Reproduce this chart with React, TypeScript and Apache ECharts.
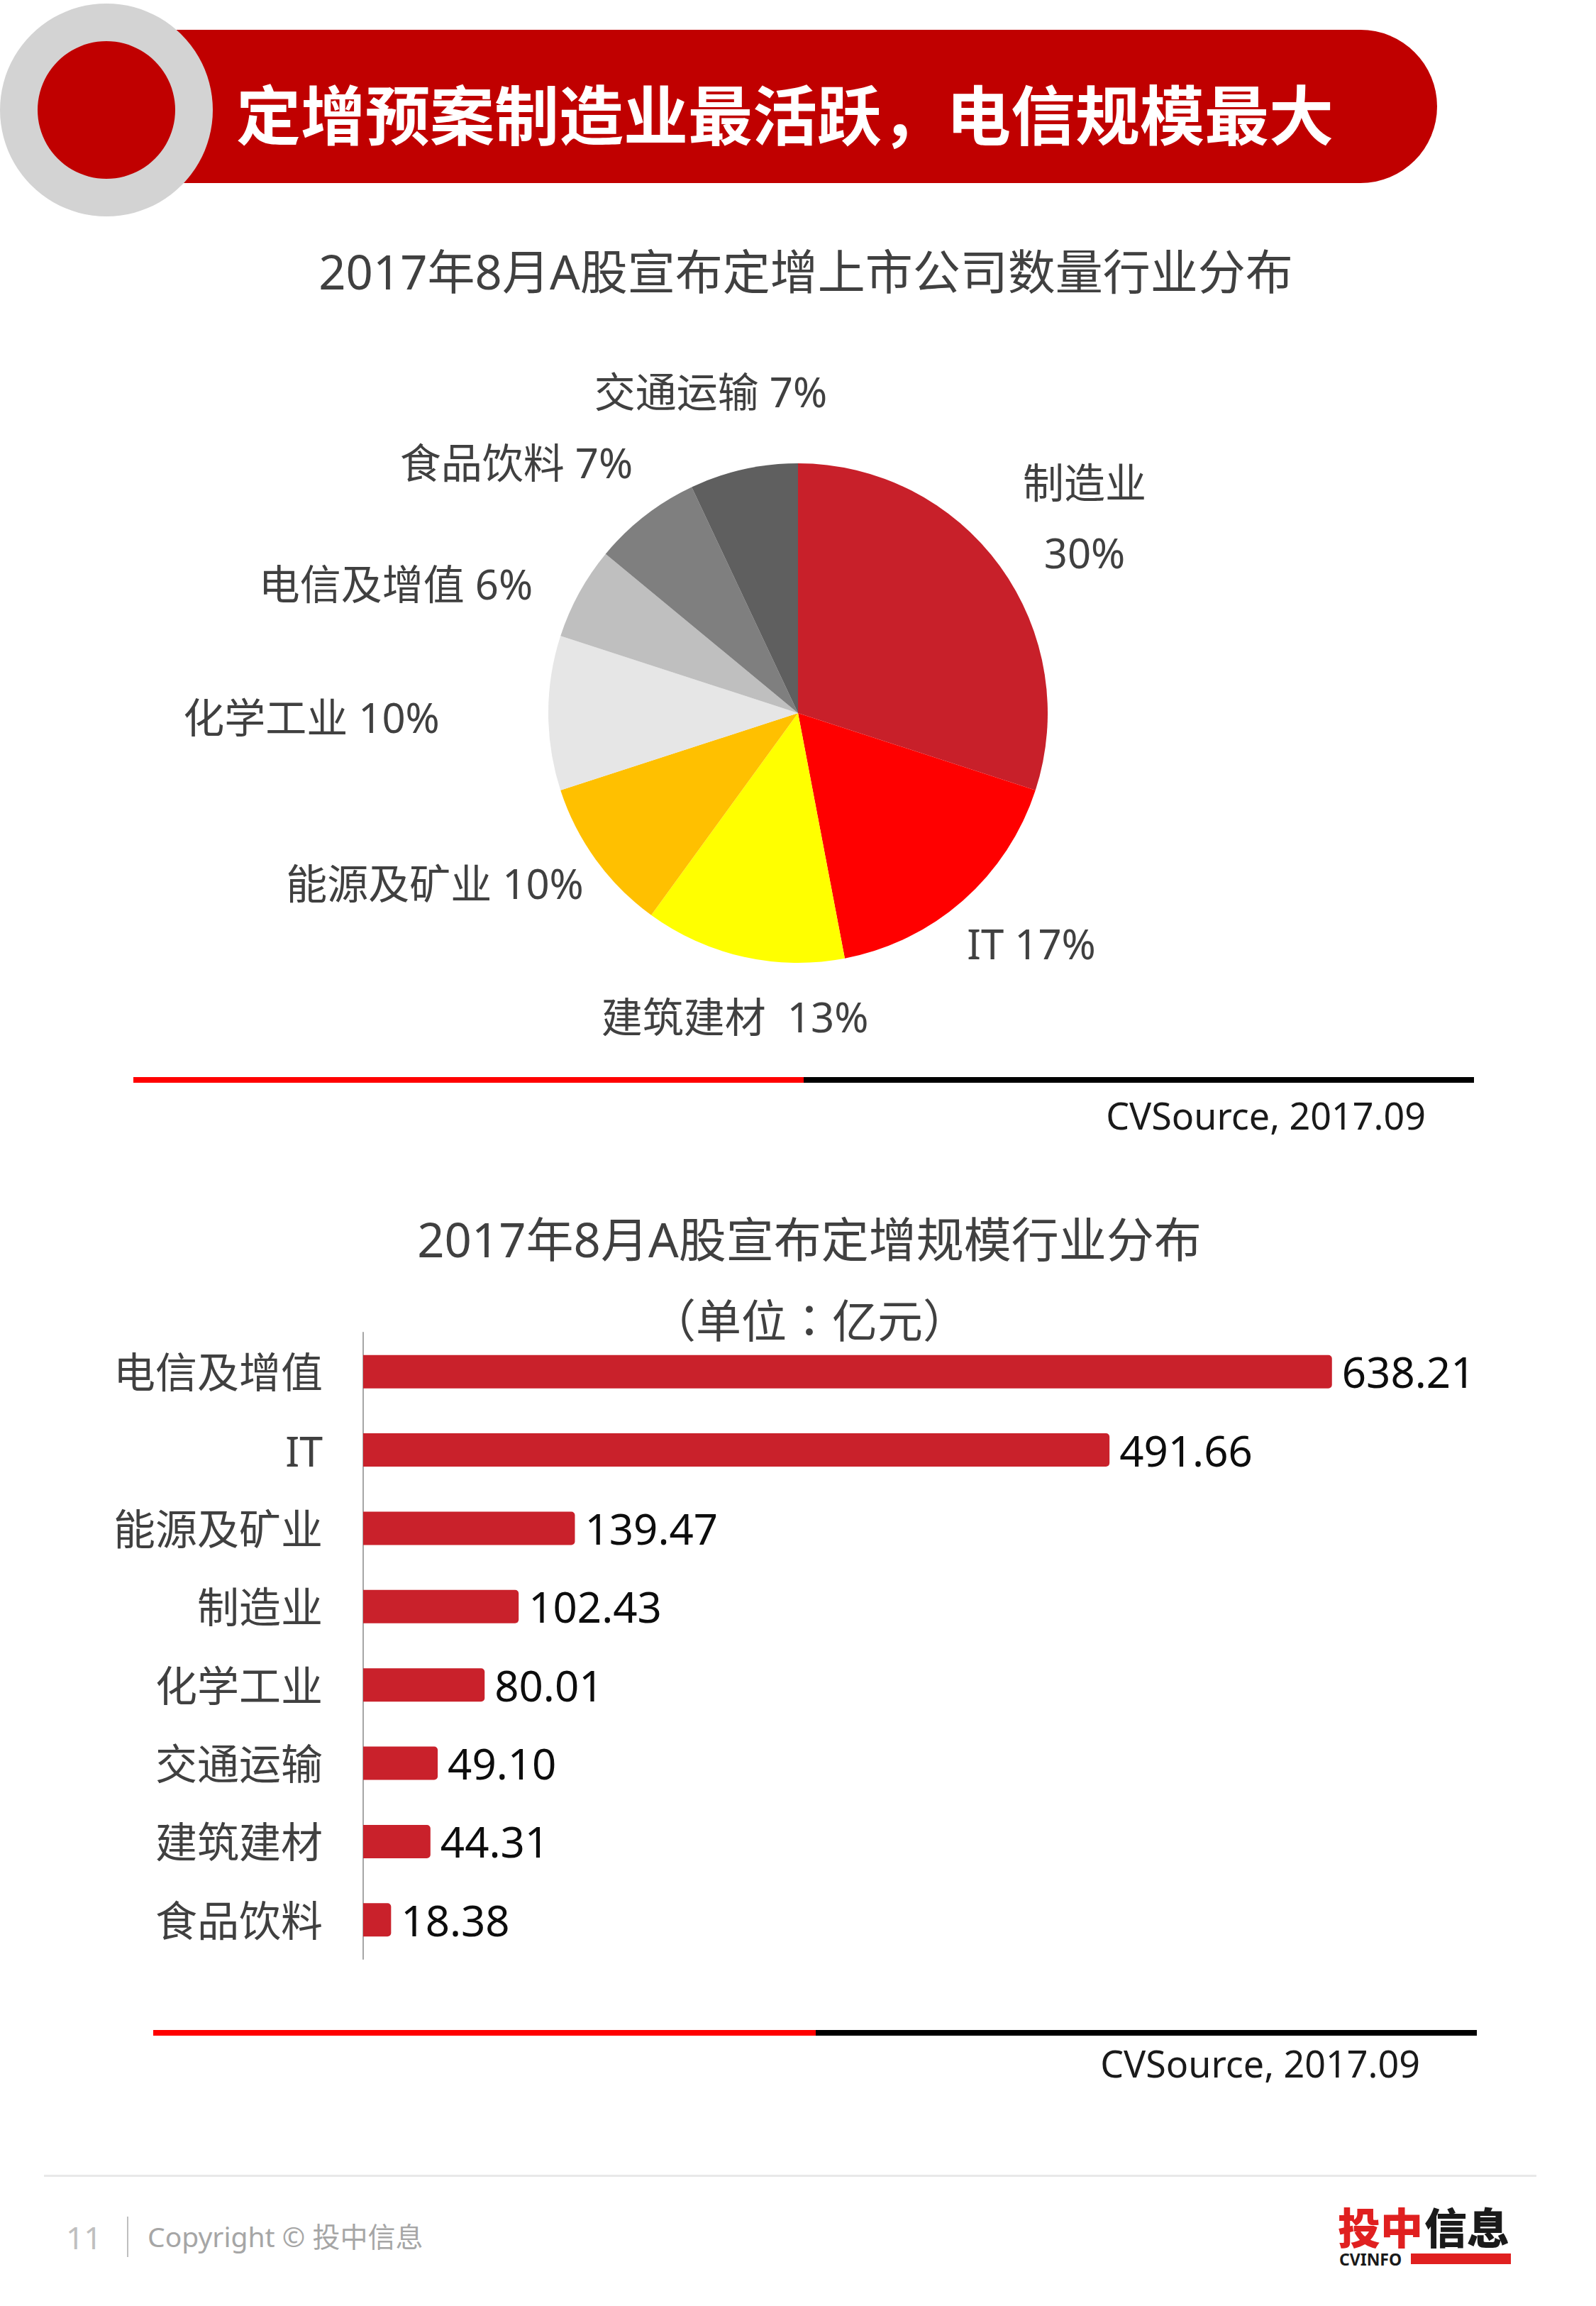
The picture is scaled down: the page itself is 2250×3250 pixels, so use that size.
import React, { useEffect, useRef } from "react";
import * as echarts from "echarts";

const FONT = '"Noto Sans", "Noto Sans CJK SC", sans-serif';
const CJK = '"Noto Sans CJK SC", sans-serif';
const CJK_TC = '"Noto Sans CJK TC", "Noto Sans CJK SC", sans-serif';

const headerTitle = "定增预案制造业最活跃，电信规模最大";
const pieTitle = "2017年8月A股宣布定增上市公司数量行业分布";
const barTitle = "2017年8月A股宣布定增规模行业分布";
const barSubtitle = "（单位：亿元）";
const sourceText = "CVSource, 2017.09";

const pieNames = ["制造业", "IT", "建筑建材", "能源及矿业", "化学工业", "电信及增值", "食品饮料", "交通运输"];
const pieValues = [30, 17, 13, 10, 10, 6, 7, 7];
const pieColors = ["#C8202A", "#FF0000", "#FFFF00", "#FFC000", "#E6E6E6", "#BFBFBF", "#7F7F7F", "#5F5F5F"];
const pieLabelSep = ["\n", " ", "  ", " ", " ", " ", " ", " "];

const barCategories = ["电信及增值", "IT", "能源及矿业", "制造业", "化学工业", "交通运输", "建筑建材", "食品饮料"];
const barValues = [638.21, 491.66, 139.47, 102.43, 80.01, 49.1, 44.31, 18.38];

// label placement (layout only)
const pieLabelPos = [
  [1529, 729],
  [1454, 1329],
  [1036, 1432],
  [613, 1244],
  [439, 1010],
  [558, 822],
  [728, 651],
  [1002, 551],
];

export default function App() {
  const ref = useRef<HTMLDivElement>(null);
  useEffect(() => {
    if (!ref.current) return;
    const chart = echarts.init(ref.current, null, { renderer: "svg" });
    const txt = (text: string, x: number, y: number, size: number, fill: string, align = "center", weight: any = "normal", family = FONT, z = 5) => ({
      type: "text",
      x,
      y,
      z,
      style: { text, fill, fontSize: size, fontFamily: family, fontWeight: weight, textAlign: align, textVerticalAlign: "middle" },
    });
    const rect = (x: number, y: number, w: number, h: number, fill: string, r: any = 0, z = 1) => ({
      type: "rect",
      z,
      shape: { x, y, width: w, height: h, r },
      style: { fill },
    });
    chart.setOption({
      animation: false,
      backgroundColor: "#ffffff",
      graphic: [
        rect(150, 42, 1876, 216, "#C00000", [0, 108, 108, 0], 1),
        { type: "circle", z: 2, shape: { cx: 150, cy: 155, r: 150 }, style: { fill: "#D3D3D3" } },
        { type: "circle", z: 3, shape: { cx: 150, cy: 155, r: 97 }, style: { fill: "#C00000" } },
        txt(headerTitle, 333, 157, 91, "#FFFFFF", "left", "bold", CJK, 4),
        txt(pieTitle, 1136, 382, 67, "#404040"),
        rect(188, 1518, 945, 8, "#FF0000"),
        rect(1133, 1518, 945, 8, "#000000"),
        txt(sourceText, 2010, 1571, 52, "#1A1A1A", "right"),
        txt(barTitle, 1141, 1746, 67, "#404040"),
        txt(barSubtitle, 1141, 1857, 64, "#404040", "center", "normal", CJK_TC),
        rect(216, 2861, 934, 8, "#FF0000"),
        rect(1150, 2861, 932, 8, "#000000"),
        txt(sourceText, 2002, 2907, 52, "#1A1A1A", "right"),
        rect(62, 3065, 2104, 3, "#E8E8E8"),
        txt("11", 93, 3153, 44, "#BFBFBF", "left"),
        rect(179, 3124, 2, 57, "#BFBFBF"),
        txt("Copyright © 投中信息", 208, 3151, 39, "#A6A6A6", "left"),
        txt("投中", 1886, 3136, 60, "#E02020", "left", 900, CJK),
        txt("信息", 2008, 3136, 60, "#1A1A1A", "left", 900, CJK),
        txt("CVINFO", 1888, 3184, 23, "#1A1A1A", "left", "bold"),
        rect(1989, 3176, 141, 15, "#E02020"),
      ],
      grid: { left: 512, top: 1878, width: 1498, height: 883 },
      xAxis: { type: "value", min: 0, max: 700, show: false, splitLine: { show: false } },
      yAxis: {
        type: "category",
        data: barCategories,
        inverse: true,
        axisLine: { show: true, lineStyle: { color: "#A6A6A6", width: 2 } },
        axisTick: { show: false },
        axisLabel: { fontSize: 59, color: "#404040", fontFamily: FONT, margin: 57 },
      },
      series: [
        {
          type: "pie",
          center: [1125, 1005],
          radius: 352,
          startAngle: 90,
          clockwise: true,
          data: pieNames.map((n, i) => ({ name: n, value: pieValues[i], itemStyle: { color: pieColors[i] } })),
          itemStyle: { borderWidth: 0 },
          label: {
            show: true,
            position: "outside",
            fontSize: 58,
            lineHeight: 99,
            color: "#404040",
            fontFamily: FONT,
            align: "center",
            formatter: (p: any) => `${p.name}${pieLabelSep[p.dataIndex]}${p.value}%`,
          },
          labelLine: { show: false },
          labelLayout: (p: any) => ({
            x: pieLabelPos[p.dataIndex][0],
            y: pieLabelPos[p.dataIndex][1],
            align: "center",
            verticalAlign: "middle",
          }),
          emphasis: { disabled: true },
        },
        {
          type: "bar",
          data: barValues,
          barWidth: 47,
          itemStyle: { color: "#C9212B", borderRadius: [0, 5, 5, 0] },
          label: {
            show: true,
            position: "right",
            distance: 14,
            fontSize: 60,
            color: "#0D0D0D",
            fontFamily: FONT,
            formatter: (p: any) => Number(p.value).toFixed(2),
          },
          emphasis: { disabled: true },
        },
      ],
    });
    return () => chart.dispose();
  }, []);
  return (
    <div
      ref={ref}
      style={{ position: "absolute", left: 0, top: 0, width: 2250, height: 3250, background: "#fff" }}
    />
  );
}
